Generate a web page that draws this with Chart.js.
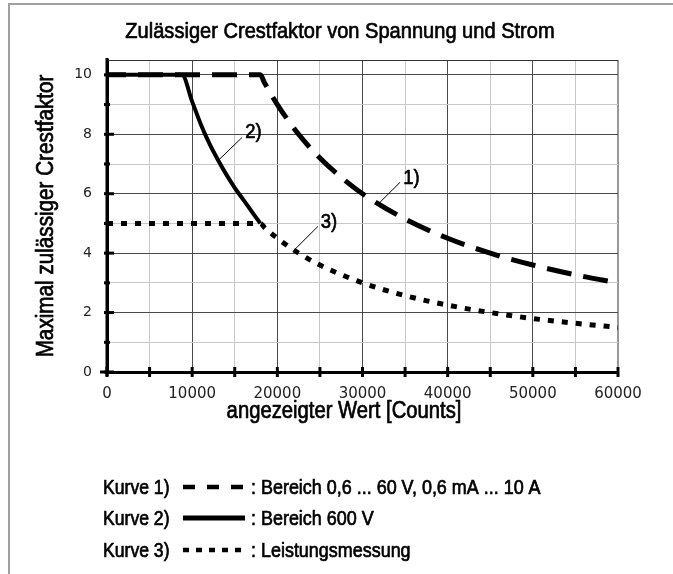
<!DOCTYPE html>
<html>
<head>
<meta charset="utf-8">
<script src="https://cdn.jsdelivr.net/npm/chart.js@4.4.1/dist/chart.umd.min.js"></script>
<style>
  html, body { margin: 0; padding: 0; background: #fff; }
  #wrap { width: 673px; height: 574px; position: relative; }
</style>
</head>
<body>
<div id="wrap"><canvas id="chart"></canvas></div>
<script>
// tick values
const xTicks = [0, 5000, 10000, 15000, 20000, 25000, 30000, 35000, 40000, 45000, 50000, 55000, 60000];
const yTicks = [0, 1, 2, 3, 4, 5, 6, 7, 8, 9, 10];

// Kurve 1) Bereich 0,6 ... 60 V, 0,6 mA ... 10 A
const curve1X = [0, 18000, 18500, 20000, 22500, 25000, 27500, 30000, 35000, 40000, 45000, 50000, 55000, 60000];
const curve1Y = [10, 10, 9.73, 9.0, 8.0, 7.2, 6.55, 6.0, 5.15, 4.5, 4.0, 3.6, 3.27, 3.0];

// Kurve 2) Bereich 600 V
const curve2X = [0, 8800, 10000, 11000, 12000, 13000, 14000, 15000, 16000, 17000, 18000];
const curve2Y = [10, 10, 9.1, 8.35, 7.7, 7.15, 6.65, 6.2, 5.8, 5.4, 5.0];

// Kurve 3) Leistungsmessung
const curve3X = [0, 18000, 18500, 20000, 22500, 25000, 30000, 35000, 40000, 45000, 50000, 55000, 60000];
const curve3Y = [5, 5, 4.86, 4.5, 4.0, 3.6, 3.0, 2.57, 2.25, 2.0, 1.8, 1.64, 1.5];

const legendNames = ['Kurve 1)', 'Kurve 2)', 'Kurve 3)'];
const legendTexts = [': Bereich 0,6 ... 60 V, 0,6 mA ... 10 A', ': Bereich 600 V', ': Leistungsmessung'];

const titleText = 'Zulässiger Crestfaktor von Spannung und Strom';
const xTitle = 'angezeigter Wert [Counts]';
const yTitle = 'Maximal zulässiger Crestfaktor';

// callouts in data units: label centre and leader line
const callouts = [
  { text: '1)', at: [35750, 6.61], from: [34400, 6.38], to: [31800, 5.64] },
  { text: '2)', at: [17200, 8.15], from: [15850, 7.89], to: [13030, 7.11] },
  { text: '3)', at: [26070, 5.12], from: [24770, 4.90], to: [22070, 4.13] }
];

const toPoints = (xs, ys) => xs.map((x, i) => ({ x: x, y: ys[i] }));

const SX = 0.88;
const FONT = '"Liberation Sans", Arial, sans-serif';

// condensed, slightly heavier label text
function drawLabel(ctx, text, x, y, size, align, angle) {
  ctx.save();
  ctx.translate(x, y);
  if (angle) ctx.rotate(angle);
  ctx.scale(SX, 1);
  ctx.font = size + 'px ' + FONT;
  ctx.textAlign = align || 'center';
  ctx.textBaseline = 'alphabetic';
  ctx.fillStyle = '#000';
  ctx.strokeStyle = '#000';
  ctx.lineWidth = 0.7;
  ctx.lineJoin = 'round';
  ctx.fillText(text, 0, 0);
  ctx.strokeText(text, 0, 0);
  ctx.restore();
}

const styles = [
  { dash: [25, 12], width: 5, offset: 6, legendDash: [12, 12] },
  { dash: [], width: 4, offset: 0, legendDash: [] },
  { dash: [6, 8], width: 5, offset: 0, legendDash: [6, 7] }
];

const framePlugin = {
  id: 'frame',
  beforeDraw(chart) {
    const ctx = chart.ctx;
    ctx.save();
    ctx.fillStyle = '#fff';
    ctx.fillRect(0, 0, chart.width, chart.height);
    ctx.strokeStyle = '#a0a0a0';
    ctx.lineWidth = 2;
    ctx.beginPath();
    ctx.moveTo(9, 574);
    ctx.lineTo(9, 4);
    ctx.lineTo(673, 4);
    ctx.stroke();
    ctx.restore();
  }
};

const decorPlugin = {
  id: 'decor',
  afterDraw(chart) {
    const ctx = chart.ctx;
    const area = chart.chartArea;
    const xs = chart.scales.x, ys = chart.scales.y;
    ctx.save();

    // top edge of plot
    ctx.strokeStyle = '#333';
    ctx.lineWidth = 1;
    ctx.beginPath();
    ctx.moveTo(area.left, area.top + 0.5);
    ctx.lineTo(area.right, area.top + 0.5);
    ctx.stroke();

    // axis stubs and tick marks
    ctx.strokeStyle = '#000';
    ctx.lineWidth = 3;
    ctx.beginPath();
    ctx.moveTo(area.left - 7, area.bottom);
    ctx.lineTo(area.left, area.bottom);
    ctx.moveTo(area.left, area.top - 2);
    ctx.lineTo(area.left, area.bottom + 4);
    ctx.stroke();
    xTicks.forEach(v => {
      const px = xs.getPixelForValue(v);
      ctx.beginPath();
      ctx.moveTo(px, area.bottom - 5);
      ctx.lineTo(px, area.bottom + 5);
      ctx.stroke();
    });
    yTicks.forEach(v => {
      const py = ys.getPixelForValue(v);
      const len = v % 2 === 0 ? 7 : 3;
      ctx.beginPath();
      ctx.moveTo(area.left - 3, py);
      ctx.lineTo(area.left + len, py);
      ctx.stroke();
    });

    // callouts
    ctx.lineWidth = 1;
    callouts.forEach(c => {
      ctx.beginPath();
      ctx.moveTo(xs.getPixelForValue(c.from[0]), ys.getPixelForValue(c.from[1]));
      ctx.lineTo(xs.getPixelForValue(c.to[0]), ys.getPixelForValue(c.to[1]));
      ctx.stroke();
      drawLabel(ctx, c.text, xs.getPixelForValue(c.at[0]), ys.getPixelForValue(c.at[1]) + 8, 21, 'center');
    });

    // titles
    drawLabel(ctx, titleText, 340, 38, 22.8, 'center');
    drawLabel(ctx, xTitle, 344, 418, 23, 'center');
    drawLabel(ctx, yTitle, 53, (area.top + area.bottom) / 2, 23.5, 'center', -Math.PI / 2);

    // legend
    const rowY = [487, 518, 550];
    legendNames.forEach((name, i) => {
      const y = rowY[i];
      drawLabel(ctx, name, 103, y + 7, 20, 'left');
      ctx.save();
      ctx.strokeStyle = '#000';
      ctx.lineWidth = i === 1 ? 5 : 4.5;
      ctx.setLineDash(styles[i].legendDash);
      ctx.beginPath();
      ctx.moveTo(183, y);
      ctx.lineTo(245, y);
      ctx.stroke();
      ctx.restore();
      drawLabel(ctx, legendTexts[i], 251, y + 7, 20.4, 'left');
    });

    ctx.restore();
  }
};

const makeDataset = (label, xsArr, ysArr, st) => ({
  label: label,
  data: toPoints(xsArr, ysArr),
  borderColor: '#000',
  borderWidth: st.width,
  borderDash: st.dash,
  borderDashOffset: st.offset,
  borderCapStyle: 'butt',
  pointRadius: 0,
  fill: false,
  cubicInterpolationMode: 'monotone'
});

new Chart(document.getElementById('chart'), {
  type: 'line',
  data: {
    datasets: [
      makeDataset('Kurve 2)', curve2X, curve2Y, styles[1]),
      makeDataset('Kurve 1)', curve1X, curve1Y, styles[0]),
      makeDataset('Kurve 3)', curve3X, curve3Y, styles[2])
    ]
  },
  options: {
    responsive: true,
    maintainAspectRatio: false,
    animation: false,
    layout: { padding: { top: 60, right: 55, bottom: 162, left: 0 } },
    plugins: {
      legend: { display: false },
      title: { display: false },
      tooltip: { enabled: false }
    },
    scales: {
      x: {
        type: 'linear',
        min: 0,
        max: 60000,
        afterBuildTicks: s => { s.ticks = xTicks.map(v => ({ value: v })); },
        afterFit: s => { s.height = 40; },
        ticks: {
          autoSkip: false,
          maxRotation: 0,
          padding: 13,
          color: '#222',
          font: { family: '"DejaVu Sans"', size: 15 },
          callback: v => (v % 10000 === 0 ? String(v) : '')
        },
        grid: {
          drawTicks: false,
          color: c => (c.tick.value === 60000 ? '#999' : (c.tick.value % 10000 === 0 ? '#4a4a4a' : '#c8c8c8')),
          lineWidth: c => (c.tick.value === 60000 ? 2 : 1)
        },
        border: { color: '#000', width: 3 }
      },
      y: {
        min: 0,
        max: 10.5,
        afterBuildTicks: s => { s.ticks = yTicks.map(v => ({ value: v })); },
        afterFit: s => { s.width = 107; },
        ticks: {
          padding: 15,
          color: '#222',
          font: { family: '"DejaVu Sans"', size: 14 },
          callback: v => (v % 2 === 0 ? String(v) : '')
        },
        grid: {
          drawTicks: false,
          color: c => (c.tick.value % 2 === 0 ? '#4a4a4a' : '#c8c8c8'),
          lineWidth: 1
        },
        border: { color: '#000', width: 3 }
      }
    }
  },
  plugins: [framePlugin, decorPlugin]
});
</script>
</body>
</html>
